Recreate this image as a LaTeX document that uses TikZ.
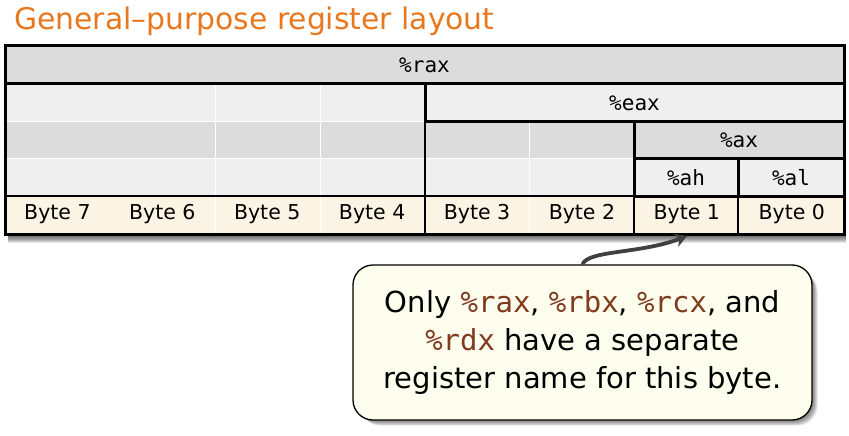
\documentclass[tikz,border=0pt]{standalone}
\usepackage{fontspec}
\setmainfont{DejaVu Sans}
\setmonofont{DejaVu Sans Mono}
\usetikzlibrary{arrows.meta}
\definecolor{titleor}{RGB}{232,120,30}
\definecolor{rowdark}{RGB}{220,220,220}
\definecolor{rowlight}{RGB}{239,239,239}
\definecolor{bytecol}{RGB}{251,243,227}
\definecolor{notefill}{RGB}{254,254,238}
\definecolor{regbrown}{RGB}{128,58,30}
\definecolor{arrowgray}{RGB}{64,64,64}
\newcommand{\regname}[1]{{\ttfamily\color{regbrown}#1}}
\begin{document}
\begin{tikzpicture}[x=1pt,y=-1pt,
  thickline/.style={line width=3pt,line cap=rect},
  medline/.style={line width=2pt},
  thinline/.style={line width=1.2pt},
  gridline/.style={white,line width=1pt},
  reglabel/.style={font=\fontsize{21}{21}\selectfont\ttfamily,inner sep=0pt},
  bytelabel/.style={font=\fontsize{20.5}{20.5}\selectfont,inner sep=0pt},
  notebox/.style={draw,line width=1.3pt,fill=notefill,rounded corners=20pt,
    minimum width=459pt,minimum height=155pt,align=center,inner sep=0pt,
    font=\fontsize{29}{38}\selectfont}]
\useasboundingbox (0,0) rectangle (849,436);
% title
\node[anchor=base west,inner sep=0pt,text=titleor,font=\fontsize{29.8}{30}\selectfont] (title) at (14,30) {General–purpose register layout};
% frame shadow
\foreach \k in {1,...,9}{
  \fill[black,opacity=0.1] (8,50) rectangle (846,234+\k);
}
% rows
\fill[rowdark]  (5,46)  rectangle (844,84);
\fill[rowlight] (5,84)  rectangle (844,121);
\fill[rowdark]  (5,121) rectangle (844,158);
\fill[rowlight] (5,158) rectangle (844,196);
\fill[bytecol]  (5,196) rectangle (844,234);
% white grid lines
\draw[gridline] (5,121) -- (425,121);
\draw[gridline] (5,158) -- (634,158);
\draw[gridline] (215,84) -- (215,234);
\draw[gridline] (320,84) -- (320,234);
\draw[gridline] (529,121) -- (529,234);
% black structure lines
\draw[thickline] (5,84) -- (844,84);
\draw[thickline] (425,84) -- (425,121) -- (844,121);
\draw[thinline] (425,121) -- (425,234);
\draw[thickline] (634,121) -- (634,196);
\draw[thickline] (634,158) -- (844,158);
\draw[thickline] (738,158) -- (738,196);
\draw[medline] (5,196) -- (634,196);
\draw[thickline] (634,196) -- (844,196);
\draw[medline] (634,196) -- (634,234);
\draw[medline] (738,196) -- (738,234);
\draw[thickline] (5,46) rectangle (844,234);
% register labels
\node[reglabel] (rax) at (424.5,65) {\%rax};
\node[reglabel] (eax) at (634.5,103) {\%eax};
\node[reglabel] (ax) at (739,140) {\%ax};
\node[reglabel] (ah) at (686,178) {\%ah};
\node[reglabel] (al) at (791,178) {\%al};
% byte labels
\foreach \i/\n in {0/7,1/6,2/5,3/4,4/3,5/2,6/1,7/0}{
  \node[bytelabel] (b\n) at (5+52.45+\i*104.9,214) {Byte \n};
}
% callout shadow
\foreach \k in {1,...,7}{
  \fill[black,opacity=0.09,rounded corners=20pt] (356+\k*0.6,268+\k*0.5) rectangle (812+\k*0.8,420+\k*0.8);
}
\node[notebox] (note) at (582.5,342.5) {Only \regname{\%rax}, \regname{\%rbx}, \regname{\%rcx}, and\\ \regname{\%rdx} have a separate\\ register name for this byte.};
% arrow
\coordinate (tip) at (687,236);
\draw[arrowgray,line width=3.8pt,-{Stealth[length=12pt,width=14pt]}] (note.north) .. controls (588,250) and (640,254) .. (tip);
\end{tikzpicture}
\end{document}
